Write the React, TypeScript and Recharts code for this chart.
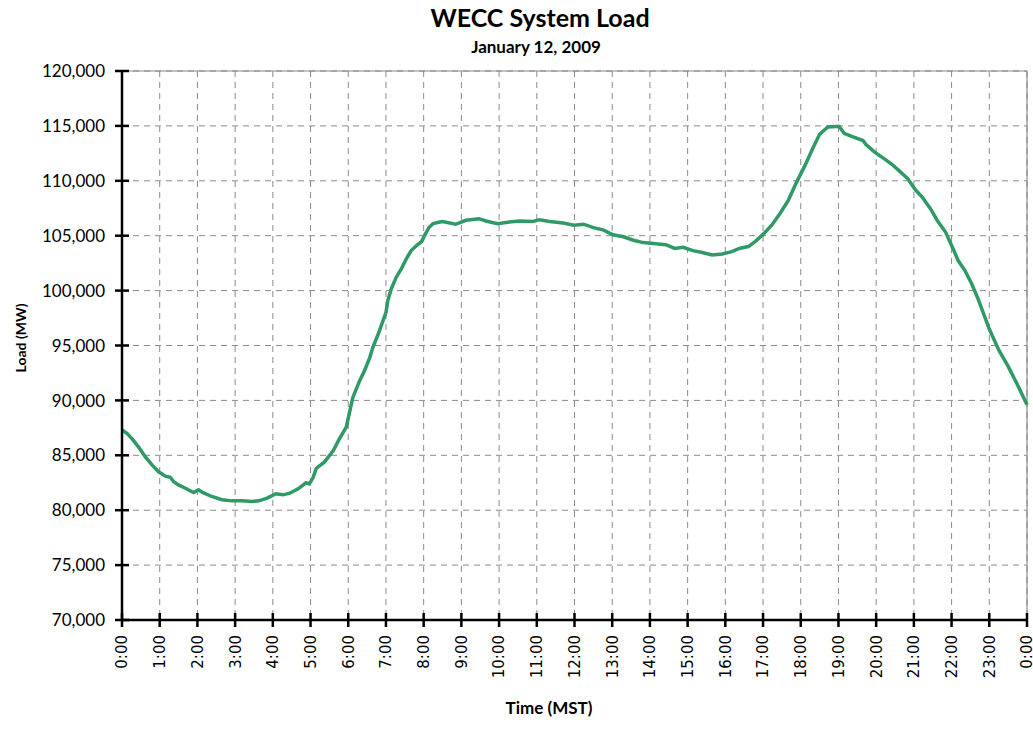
import React from 'react';
import { LineChart, Line, XAxis, YAxis, CartesianGrid, ReferenceLine } from 'recharts';

const chartTitle = 'WECC System Load';
const chartSubtitle = 'January 12, 2009';
const xAxisTitle = 'Time (MST)';
const yAxisTitle = 'Load (MW)';

const hours = [
  0.0, 0.13, 0.27, 0.44, 0.62, 0.8, 0.97, 1.15, 1.28, 1.37, 1.5, 1.68, 1.9, 2.03, 2.15, 2.38, 2.65, 2.92,
  3.18, 3.45, 3.63, 3.85, 4.08, 4.27, 4.45, 4.67, 4.88, 4.97, 5.07, 5.15, 5.37, 5.6, 5.75, 5.95, 6.04, 6.12,
  6.3, 6.43, 6.57, 6.65, 6.79, 6.92, 7.0, 7.05, 7.14, 7.27, 7.41, 7.54, 7.67, 7.81, 7.94, 8.03, 8.14, 8.25,
  8.43, 8.5, 8.85, 9.12, 9.47, 9.65, 9.96, 10.27, 10.54, 10.9, 11.07, 11.34, 11.7, 11.98, 12.24, 12.5, 12.76,
  13.02, 13.3, 13.56, 13.82, 14.09, 14.42, 14.66, 14.88, 15.14, 15.39, 15.65, 15.92, 16.17, 16.39, 16.61,
  16.79, 17.0, 17.23, 17.45, 17.67, 17.89, 18.11, 18.33, 18.5, 18.72, 18.94, 19.02, 19.15, 19.37, 19.65,
  19.73, 19.96, 20.18, 20.4, 20.62, 20.84, 21.04, 21.22, 21.44, 21.62, 21.84, 22.04, 22.17, 22.35, 22.53,
  22.7, 23.0, 23.25, 23.5, 23.75, 24.0,
];

const loadMW = [
  87300, 87000, 86500, 85750, 84850, 84100, 83500, 83100, 83000, 82600, 82300, 82000, 81600, 81850, 81600,
  81250, 80950, 80850, 80850, 80800, 80850, 81100, 81500, 81400, 81550, 81950, 82500, 82400, 83000, 83800,
  84400, 85400, 86400, 87600, 89000, 90250, 91770, 92700, 93900, 94800, 96000, 97250, 98000, 99100, 100150,
  101200, 102000, 102900, 103650, 104100, 104450, 105050, 105750, 106100, 106250, 106300, 106040, 106400,
  106550, 106340, 106100, 106250, 106340, 106300, 106460, 106300, 106150, 105960, 106050, 105730, 105530,
  105090, 104900, 104590, 104370, 104290, 104180, 103840, 103950, 103640, 103470, 103250, 103340, 103550,
  103860, 104010, 104460, 105120, 105960, 107020, 108220, 109880, 111380, 113040, 114240, 114900, 114950,
  114940, 114330, 114030, 113670, 113300, 112610, 112090, 111550, 110880, 110180, 109180, 108520, 107460,
  106390, 105330, 103820, 102760, 101850, 100640, 99270, 96500, 94600, 93100, 91400, 89600,
];

const xTicks = [0, 1, 2, 3, 4, 5, 6, 7, 8, 9, 10, 11, 12, 13, 14, 15, 16, 17, 18, 19, 20, 21, 22, 23, 24];
const xTickLabels = [
  '0:00', '1:00', '2:00', '3:00', '4:00', '5:00', '6:00', '7:00', '8:00', '9:00', '10:00', '11:00', '12:00',
  '13:00', '14:00', '15:00', '16:00', '17:00', '18:00', '19:00', '20:00', '21:00', '22:00', '23:00', '0:00',
];
const yTicks = [70000, 75000, 80000, 85000, 90000, 95000, 100000, 105000, 110000, 115000, 120000];

const data = hours.map((h, i) => ({ h, load: loadMW[i] }));

const XTick = (props: any) => {
  const { x, y, payload, index } = props;
  const ty = y + 15;
  const label = xTickLabels[xTicks.indexOf(payload.value)] ?? xTickLabels[index];
  return (
    <g>
      <line x1={x} x2={x} y1={y - 7} y2={y + 7} stroke="#000" strokeWidth={2.5} />
      <text
        x={x}
        y={ty}
        transform={`rotate(-90 ${x} ${ty})`}
        textAnchor="end"
        dy="0.36em"
        fontFamily="'DejaVu Sans'"
        fontSize={15}
        fill="#000"
      >
        {label}
      </text>
    </g>
  );
};

const YTick = (props: any) => {
  const { x, y, payload } = props;
  return (
    <g>
      <line x1={x - 7} x2={x + 7} y1={y} y2={y} stroke="#000" strokeWidth={2.5} />
      <text
        x={x - 17}
        y={y}
        textAnchor="end"
        dy="0.36em"
        fontFamily="Lato"
        fontSize={17}
        fill="#000"
      >
        {Number(payload.value).toLocaleString('en-US')}
      </text>
    </g>
  );
};

export default function App() {
  return (
    <div style={{ position: 'absolute', left: 0, top: 0, width: 1033, height: 746, background: '#fff' }}>
      <LineChart
        width={1033}
        height={746}
        data={data}
        margin={{ top: 71, right: 6, bottom: 0, left: 0 }}
      >
        <CartesianGrid stroke="#8a8a8a" strokeDasharray="6 5" strokeWidth={1} />
        <ReferenceLine y={120000} stroke="#8a8a8a" strokeWidth={1.2} />
        <ReferenceLine x={24} stroke="#8a8a8a" strokeWidth={1.2} />
        <XAxis
          dataKey="h"
          type="number"
          domain={[0, 24]}
          ticks={xTicks}
          interval={0}
          height={126}
          tickSize={0}
          tickMargin={0}
          tickLine={false}
          axisLine={{ stroke: '#000', strokeWidth: 2.5 }}
          tick={<XTick />}
        />
        <YAxis
          type="number"
          domain={[70000, 120000]}
          ticks={yTicks}
          interval={0}
          width={122}
          tickSize={0}
          tickMargin={0}
          tickLine={false}
          axisLine={{ stroke: '#000', strokeWidth: 2.5 }}
          tick={<YTick />}
        />
        <Line
          type="linear"
          dataKey="load"
          stroke="#2f9a66"
          strokeWidth={3.5}
          dot={false}
          isAnimationActive={false}
        />
      </LineChart>
      <svg
        width={1033}
        height={746}
        style={{ position: 'absolute', left: 0, top: 0, pointerEvents: 'none' }}
      >
        <text x={540} y={27} textAnchor="middle" fontFamily="Lato" fontWeight="bold" fontSize={25} fill="#000">
          {chartTitle}
        </text>
        <text x={536} y={53} textAnchor="middle" fontFamily="Lato" fontWeight="bold" fontSize={17} fill="#000">
          {chartSubtitle}
        </text>
        <text
          x={26}
          y={338}
          transform="rotate(-90 26 338)"
          textAnchor="middle"
          fontFamily="Lato"
          fontWeight="bold"
          fontSize={14}
          fill="#000"
        >
          {yAxisTitle}
        </text>
        <text x={549} y={714} textAnchor="middle" fontFamily="Lato" fontWeight="bold" fontSize={17} fill="#000">
          {xAxisTitle}
        </text>
      </svg>
    </div>
  );
}
